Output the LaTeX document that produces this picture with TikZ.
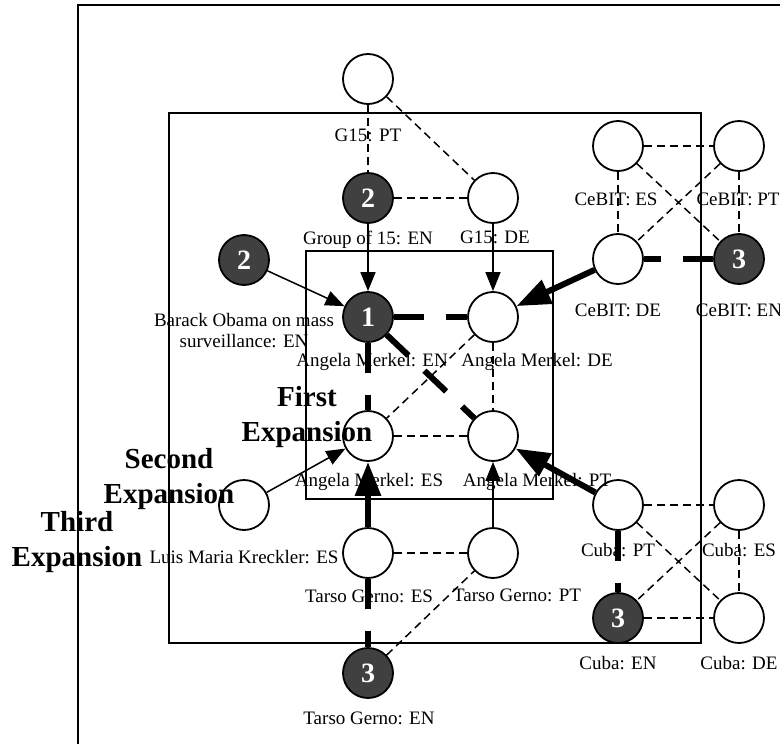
\documentclass[tikz,border=0pt]{standalone}
\usepackage{fontspec}
\setmainfont{Liberation Serif}
\usetikzlibrary{arrows.meta}
\tikzset{
  wn/.style={circle,draw=black,line width=1.8pt,fill=white,minimum size=50pt,inner sep=0pt},
  dn/.style={circle,draw=black,line width=1.8pt,fill=black!75,minimum size=50pt,inner sep=0pt,
    text=white,font=\fontsize{28}{30}\selectfont\bfseries},
  lbl/.style={font=\fontsize{19}{21}\selectfont,inner sep=0pt,align=center},
  exlbl/.style={font=\fontsize{29}{35}\selectfont\bfseries,inner sep=0pt,align=center},
  boxline/.style={line width=1.7pt},
  thindash/.style={line width=1.5pt,dash pattern=on 8pt off 5pt},
  thickdash/.style={line width=6pt,dash pattern=on 30pt off 22pt},
  thinarrow/.style={line width=1.5pt,-{Triangle[length=19pt,width=15pt]}},
  thickarrow/.style={line width=6pt,-{Triangle[length=34pt,width=25pt]}}
}
\begin{document}
\begin{tikzpicture}[x=1pt,y=-1pt]
\useasboundingbox (0,0) rectangle (780,744);
% boxes
\draw[boxline] (78,760) -- (78,5) -- (795,5);
\draw[boxline] (169,113) rectangle (701,643);
\draw[boxline] (306,251) rectangle (553,499);
% nodes
\node[wn] (g15pt) at (368,79) {};
\node[dn] (g15en) at (368,198) {2};
\node[wn] (g15de) at (493,198) {};
\node[dn] (obama) at (244,260) {2};
\node[dn] (amen) at (368,317) {1};
\node[wn] (amde) at (493,317) {};
\node[wn] (ames) at (368,436) {};
\node[wn] (ampt) at (493,436) {};
\node[wn] (luis) at (244,505) {};
\node[wn] (tges) at (368,553) {};
\node[wn] (tgpt) at (493,553) {};
\node[dn] (tgen) at (368,673) {3};
\node[wn] (cbes) at (618,146) {};
\node[wn] (cbpt) at (739,146) {};
\node[wn] (cbde) at (618,259) {};
\node[dn] (cben) at (739,259) {3};
\node[wn] (cupt) at (618,505) {};
\node[wn] (cues) at (739,505) {};
\node[dn] (cuen) at (618,618) {3};
\node[wn] (cude) at (739,618) {};
% thin dashed
\draw[thindash] (g15pt) -- (g15en);
\draw[thindash] (g15pt) -- (g15de);
\draw[thindash] (g15en) -- (g15de);
\draw[thindash] (cbes) -- (cbpt);
\draw[thindash] (cbes) -- (cbde);
\draw[thindash] (cbes) -- (cben);
\draw[thindash] (cbpt) -- (cbde);
\draw[thindash] (cbpt) -- (cben);
\draw[thindash] (amde) -- (ames);
\draw[thindash] (amde) -- (ampt);
\draw[thindash] (ames) -- (ampt);
\draw[thindash] (tges) -- (tgpt);
\draw[thindash] (tgen) -- (tgpt);
\draw[thindash] (cupt) -- (cues);
\draw[thindash] (cupt) -- (cude);
\draw[thindash] (cues) -- (cuen);
\draw[thindash] (cues) -- (cude);
\draw[thindash] (cuen) -- (cude);
% thick dashed
\draw[thickdash] (amen) -- (amde);
\draw[thickdash] (amen) -- (ames);
\draw[thickdash] (amen) -- (ampt);
\draw[thickdash] (cben) -- (cbde);
\draw[thickdash] (tges) -- (tgen);
\draw[thickdash] (cupt) -- (cuen);
% arrows
\draw[thinarrow] (g15en) -- (amen);
\draw[thinarrow] (g15de) -- (amde);
\draw[thinarrow] (obama) -- (amen);
\draw[thinarrow] (luis) -- (ames);
\draw[thinarrow] (tgpt) -- (ampt);
\draw[thickarrow] (tges) -- (ames);
\draw[thickarrow] (cbde) -- (amde);
\draw[thickarrow] (cupt) -- (ampt);
% labels
\node[lbl] (t1) at (368,135) {G15: PT};
\node[lbl] (t2) at (368,240) {Group of 15: EN};
\node[lbl] (t3) at (495,237) {G15: DE};
\node[lbl] (t4) at (244,331) {Barack Obama on mass\\surveillance: EN};
\node[lbl] (t5) at (372,362) {Angela Merkel: EN};
\node[lbl] (t6) at (537,362) {Angela Merkel: DE};
\node[lbl] (t7) at (369,482) {Angela Merkel: ES};
\node[lbl] (t8) at (537,482) {Angela Merkel: PT};
\node[lbl] (t9) at (244,557) {Luis Maria Kreckler: ES};
\node[lbl] (t10) at (369,596) {Tarso Gerno: ES};
\node[lbl] (t11) at (517,595) {Tarso Gerno: PT};
\node[lbl] (t12) at (369,718) {Tarso Gerno: EN};
\node[lbl] (t13) at (616,199) {CeBIT: ES};
\node[lbl] (t14) at (738,199) {CeBIT: PT};
\node[lbl] (t15) at (618,310) {CeBIT: DE};
\node[lbl] (t16) at (739,310) {CeBIT: EN};
\node[lbl] (t17) at (618,550) {Cuba: PT};
\node[lbl] (t18) at (739,550) {Cuba: ES};
\node[lbl] (t19) at (618,663) {Cuba: EN};
\node[lbl] (t20) at (739,663) {Cuba: DE};
\node[exlbl] (e1) at (307,417) {First\\Expansion};
\node[exlbl] (e2) at (169,479) {Second\\Expansion};
\node[exlbl] (e3) at (77,542) {Third\\Expansion};
\end{tikzpicture}
\end{document}
